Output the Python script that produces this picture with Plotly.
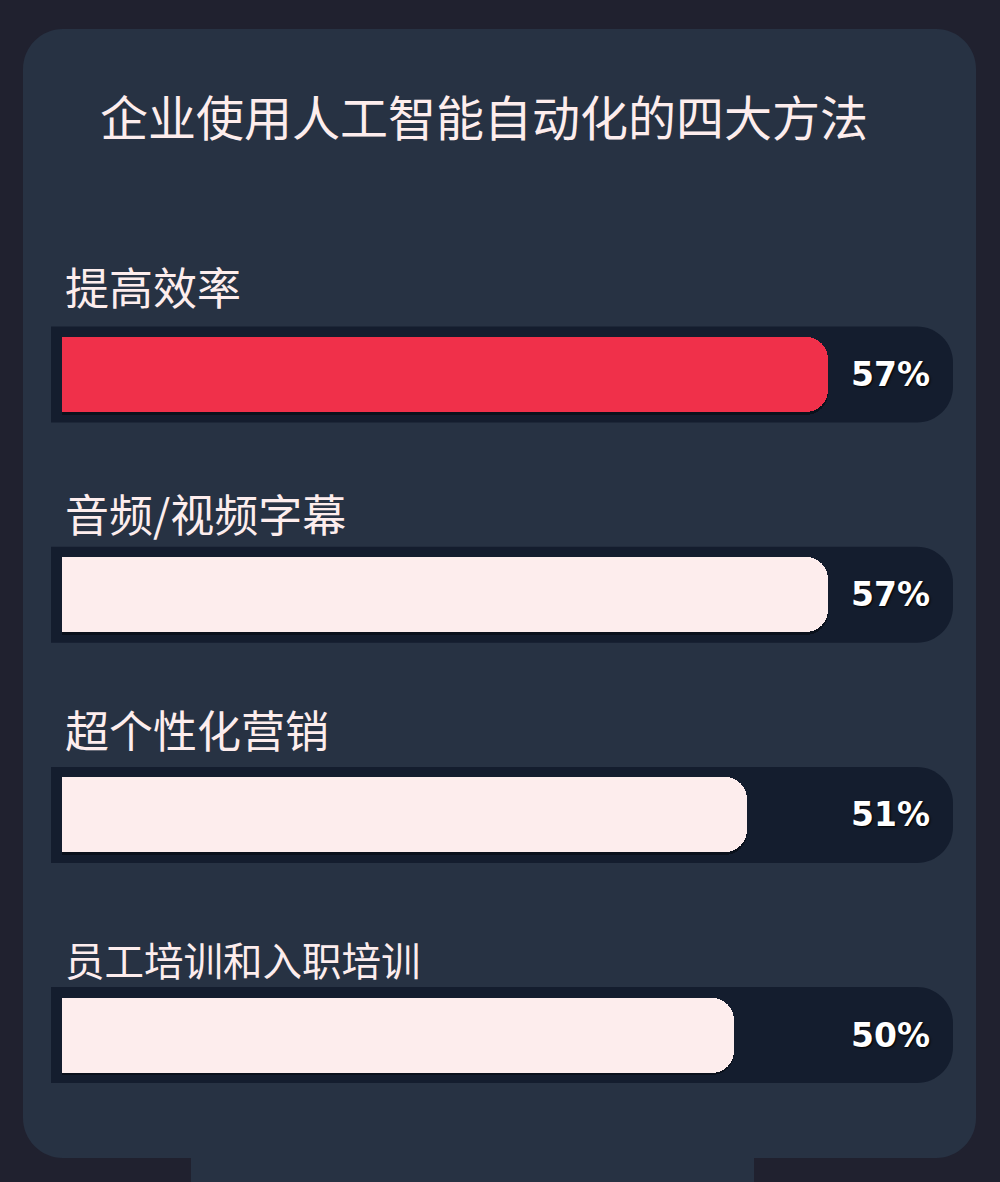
import plotly.graph_objects as go

# data
title = "企业使用人工智能自动化的四大方法"
categories = ["提高效率", "音频/视频字幕", "超个性化营销", "员工培训和入职培训"]
shares = [57, 57, 51, 50]  # percent of businesses
highlight = [True, False, False, False]

# look
W, H = 1000, 1182
OUTER_BG = "#20212f"
CARD_BG = "#273243"
TRACK = "#141d2e"
RED = "#f0304a"
LIGHT = "#fdeded"
SHADOW = "#0b111c"
CJK = "Noto Sans CJK SC"

# pixel layout of the rows (x: 0% sits at 62px, 13.44px per percent)
X0_PX, PX_PER_PCT = 62, 13.44
ROW0_PX, ROW_STEP_PX = 374.5, 220.2
BAR_H_PX, TRACK_H_PX = 75, 96
TRACK_X0_PX, TRACK_X1_PX = 51, 953
label_lift = [89, 82, 86, 77]
label_size = [44, 44, 44, 39.5]


def px_x(v):
    return (v - X0_PX) / PX_PER_PCT


def px_y(v):
    return (v - ROW0_PX) / ROW_STEP_PX


def rounded_path(x0, y0, x1, y1, rl, rr):
    """closed path of a rect with left radius rl and right radius rr,
    pixel coords -> paper coords"""
    kl, kr = 0.5523 * rl, 0.5523 * rr

    def p(x, y):
        return f"{x / W:.5f},{1 - y / H:.5f}"

    return (
        f"M{p(x0 + rl, y0)} L{p(x1 - rr, y0)} "
        f"C{p(x1 - rr + kr, y0)} {p(x1, y0 + rr - kr)} {p(x1, y0 + rr)} "
        f"L{p(x1, y1 - rr)} "
        f"C{p(x1, y1 - rr + kr)} {p(x1 - rr + kr, y1)} {p(x1 - rr, y1)} "
        f"L{p(x0 + rl, y1)} "
        f"C{p(x0 + rl - kl, y1)} {p(x0, y1 - rl + kl)} {p(x0, y1 - rl)} "
        f"L{p(x0, y0 + rl)} "
        f"C{p(x0, y0 + rl - kl)} {p(x0 + rl - kl, y0)} {p(x0 + rl, y0)} Z"
    )


rows = list(range(len(categories)))
bar_w = BAR_H_PX / ROW_STEP_PX

fig = go.Figure()

# thin shadow under the bars
fig.add_trace(go.Bar(
    y=rows, x=shares, orientation="h", width=bar_w,
    offset=-bar_w / 2 + 2.5 / ROW_STEP_PX,
    marker=dict(color=SHADOW, line_width=0, cornerradius=22),
    hoverinfo="skip", showlegend=False,
))
fig.add_trace(go.Bar(
    y=rows, x=shares, orientation="h", width=bar_w, offset=-bar_w / 2,
    marker=dict(color=[RED if h else LIGHT for h in highlight],
                line_width=0, cornerradius=22),
    hovertemplate="%{x}%<extra></extra>", showlegend=False,
))

# card background
fig.add_shape(type="path", path=rounded_path(23, 29, 976, 1158, 40, 40),
              xref="paper", yref="paper", fillcolor=CARD_BG,
              line_width=0, layer="below")
fig.add_shape(type="rect", xref="paper", yref="paper",
              x0=191 / W, x1=754 / W, y0=0, y1=1 - 1120 / H,
              fillcolor=CARD_BG, line_width=0, layer="below")

# dark track of each row
for i in rows:
    cy = ROW0_PX + i * ROW_STEP_PX
    fig.add_shape(type="path",
                  path=rounded_path(TRACK_X0_PX, cy - TRACK_H_PX / 2,
                                    TRACK_X1_PX, cy + TRACK_H_PX / 2, 0, 36),
                  xref="paper", yref="paper", fillcolor=TRACK,
                  line_width=0, layer="below")

# title
fig.add_annotation(text=title, xref="paper", yref="paper",
                   x=98 / W, y=1 - 115 / H, xanchor="left", yanchor="middle",
                   showarrow=False, font=dict(family=CJK, size=48, color=LIGHT))

for i, (cat, val) in enumerate(zip(categories, shares)):
    fig.add_annotation(text=cat, xref="paper", yref="y", x=63 / W, y=i,
                       xanchor="left", yanchor="middle", yshift=label_lift[i],
                       showarrow=False,
                       font=dict(family=CJK, size=label_size[i], color=LIGHT))
    fig.add_annotation(text=f"{val}%", xref="paper", yref="y", x=932 / W, y=i,
                       xanchor="right", yanchor="middle", showarrow=False,
                       font=dict(family="DejaVu Sans", size=33, color="#ffffff",
                                 weight="bold", shadow="1px 1px 2px #000000"))

fig.update_layout(
    width=W, height=H,
    margin=dict(l=0, r=0, t=0, b=0),
    paper_bgcolor=OUTER_BG, plot_bgcolor="rgba(0,0,0,0)",
    barmode="group", bargap=0,
    xaxis=dict(range=[px_x(0), px_x(W)], visible=False, fixedrange=True),
    yaxis=dict(range=[px_y(H), px_y(0)], visible=False, fixedrange=True),
)

# page margin off so the figure fills the window
fig.write_html("out.html", config={"displayModeBar": False},
               post_script="document.body.style.margin='0';")
